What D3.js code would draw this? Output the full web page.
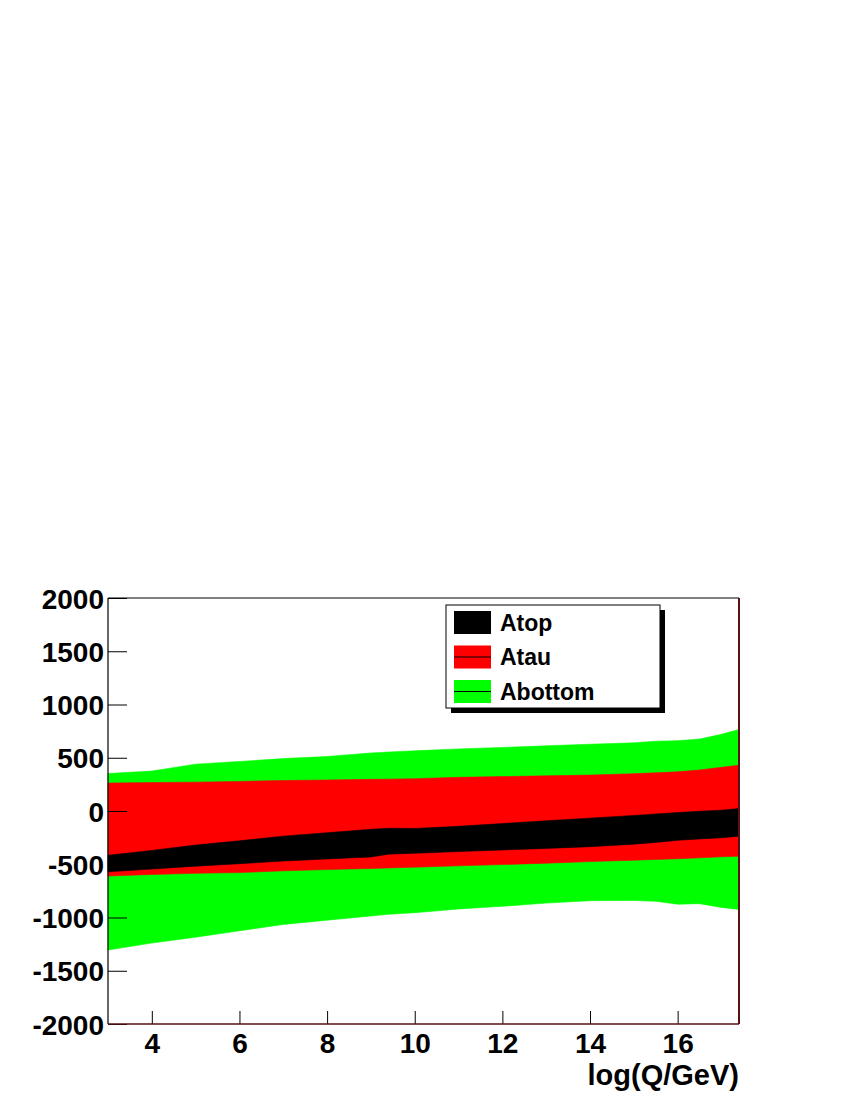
<!DOCTYPE html>
<html>
<head>
<meta charset="utf-8">
<script src="https://cdn.jsdelivr.net/npm/d3@7"></script>
<style>
  html, body { margin: 0; padding: 0; background: #fff; }
  svg { display: block; }
  text { font-family: "Liberation Sans", Arial, Helvetica, sans-serif; font-weight: bold; fill: #000; }
</style>
</head>
<body>
<svg id="chart" width="850" height="1100"></svg>
<script>
// ---- data ----
const xs      = [3, 4, 5, 6, 7, 8, 9, 9.4, 10, 11, 12, 13, 14, 15, 15.5, 16, 16.5, 17, 17.4];
// Abottom band (green)
const abotHi  = [352, 375, 440, 465, 492, 512, 545, 553, 565, 583, 597, 612, 627, 640, 655, 660, 675, 720, 765];
const abotLo  = [-1305, -1240, -1185, -1125, -1065, -1025, -985, -970, -955, -920, -895, -865, -842, -840, -848, -875, -870, -905, -925];
// Atau band (red)
const atauHi  = [262, 267, 271, 278, 286, 291, 297, 299, 303, 316, 323, 330, 337, 350, 358, 368, 385, 410, 430];
const atauLo  = [-611, -596, -585, -578, -562, -550, -540, -535, -527, -515, -503, -490, -475, -462, -455, -448, -440, -430, -424];
// Atop band (black)
const atopHi  = [-416, -370, -320, -280, -236, -204, -172, -162, -164, -144, -118, -92, -67, -42, -28, -15, -2, 8, 23];
const atopLo  = [-571, -545, -518, -495, -470, -450, -432, -405, -397, -381, -366, -351, -335, -312, -295, -275, -262, -252, -236];

const xTicks  = [4, 6, 8, 10, 12, 14, 16];
const yTicks  = [-2000, -1500, -1000, -500, 0, 500, 1000, 1500, 2000];
const seriesNames = ["Atop", "Atau", "Abottom"];
const xTitle = "log(Q/GeV)";

// ---- layout ----
const svg = d3.select("#chart");
const L = 108, R = 739, T = 598, B = 1024;
const x = d3.scaleLinear().domain([3, 17.4]).range([L, R]);
const y = d3.scaleLinear().domain([-2000, 2000]).range([B, T]);

const band = (hi, lo) => d3.area()
  .x((d, i) => x(xs[i]))
  .y0((d, i) => y(lo[i]))
  .y1((d, i) => y(hi[i]))(xs);

const bands = [
  { hi: abotHi, lo: abotLo, color: "#00ff00" },
  { hi: atauHi, lo: atauLo, color: "#ff0000" },
  { hi: atopHi, lo: atopLo, color: "#000000" }
];
svg.append("g").selectAll("path").data(bands).join("path")
  .attr("d", d => band(d.hi, d.lo))
  .attr("fill", d => d.color)
  .attr("stroke", d => d.color)
  .attr("stroke-width", 0.6);

const fmt = d => String(d);   // plain hyphen-minus, as in the reference

// ---- axes ----
const xAxis = d3.axisBottom(x).tickValues(xTicks).tickSize(13).tickFormat(fmt);
const gx = svg.append("g").attr("transform", `translate(0,${B})`).call(xAxis);
gx.select(".domain").remove();
gx.selectAll(".tick line").attr("y1", 0).attr("y2", -13).attr("stroke", "#000");
gx.selectAll(".tick text").attr("y", 29).attr("dy", 0).attr("font-size", 28)
  .attr("font-family", "'Liberation Sans', Arial, sans-serif").attr("font-weight", "bold").attr("fill", "#000");

const yAxis = d3.axisLeft(y).tickValues(yTicks).tickSize(19).tickFormat(fmt);
const gy = svg.append("g").attr("transform", `translate(${L},0)`).call(yAxis);
gy.select(".domain").remove();
gy.selectAll(".tick line").attr("x1", 0).attr("x2", 19).attr("stroke", "#000");
gy.selectAll(".tick text").attr("x", -4).attr("dy", "0.36em").attr("font-size", 28)
  .attr("font-family", "'Liberation Sans', Arial, sans-serif").attr("font-weight", "bold").attr("fill", "#000");

// frame
svg.append("line").attr("x1", L).attr("x2", L).attr("y1", T).attr("y2", B).attr("stroke", "#000").attr("stroke-width", 1.2);
svg.append("line").attr("x1", L).attr("x2", R).attr("y1", T).attr("y2", T).attr("stroke", "#000").attr("stroke-width", 1.2);
svg.append("line").attr("x1", R).attr("x2", R).attr("y1", T).attr("y2", B).attr("stroke", "#5a1010").attr("stroke-width", 2);
svg.append("line").attr("x1", L).attr("x2", R).attr("y1", B).attr("y2", B).attr("stroke", "#5a1010").attr("stroke-width", 1.6);

// axis title
svg.append("text").attr("x", R).attr("y", 1085).attr("text-anchor", "end")
  .attr("font-size", 29).text(xTitle);

// ---- legend ----
const lg = svg.append("g");
const lx = 446, ly = 605, lw = 214, lh = 103;
lg.append("rect").attr("x", lx + 5).attr("y", ly + 5).attr("width", lw).attr("height", lh).attr("fill", "#000");
lg.append("rect").attr("x", lx).attr("y", ly).attr("width", lw).attr("height", lh)
  .attr("fill", "#fff").attr("stroke", "#000").attr("stroke-width", 1);
const legColors = ["#000000", "#ff0000", "#00ff00"];
const entry = lg.selectAll("g.e").data(seriesNames).join("g").attr("class", "e")
  .attr("transform", (d, i) => `translate(${lx + 8},${ly + 6 + i * 34.5})`);
entry.append("rect").attr("width", 37).attr("height", 23).attr("fill", (d, i) => legColors[i]);
entry.filter((d, i) => i > 0).append("line").attr("x1", 0).attr("x2", 37).attr("y1", 11.5).attr("y2", 11.5)
  .attr("stroke", "#000").attr("stroke-width", 1);
entry.append("text").attr("x", 46).attr("y", 11.5).attr("dy", "0.36em").attr("font-size", 23).text(d => d);
</script>
</body>
</html>
